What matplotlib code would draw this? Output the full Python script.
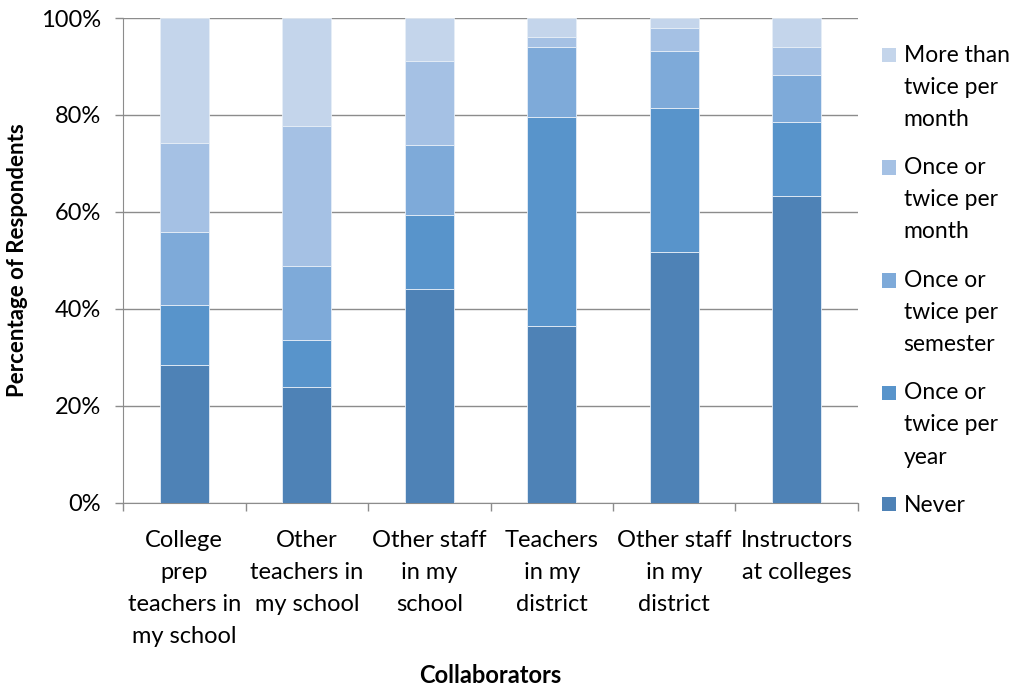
import numpy as np
import matplotlib.pyplot as plt
import matplotlib.patches as mpatches
from matplotlib.legend_handler import HandlerPatch
from matplotlib.ticker import PercentFormatter

plt.rcParams['font.family'] = ['Lato', 'DejaVu Sans']

# categories along the x axis
collaborators = ["College\nprep\nteachers in\nmy school", "Other\nteachers in\nmy school",
                 "Other staff\nin my\nschool", "Teachers\nin my\ndistrict",
                 "Other staff\nin my\ndistrict", "Instructors\nat colleges"]

# percent of respondents, bottom segment first
never    = [28.4, 23.9, 44.1, 36.5, 51.8, 63.3]
per_year = [12.3,  9.7, 15.3, 43.1, 29.7, 15.3]
per_sem  = [15.2, 15.3, 14.4, 14.4, 11.6,  9.6]
per_mon  = [18.3, 28.8, 17.3,  2.1,  4.8,  5.8]
more_mon = [25.8, 22.3,  8.9,  3.9,  2.1,  6.0]

series = [never, per_year, per_sem, per_mon, more_mon]
names = ["Never", "Once or\ntwice per\nyear", "Once or\ntwice per\nsemester",
         "Once or\ntwice per\nmonth", "More than\ntwice per\nmonth"]
colors = ["#4E82B6", "#5894CB", "#7EAAD9", "#A5C1E4", "#C4D5EB"]


class TopHandler(HandlerPatch):
    # put the square next to the first line of a multi-line label
    def create_artists(self, legend, orig_handle, xdescent, ydescent, width, height,
                       fontsize, trans):
        n = orig_handle.get_label().count("\n")
        shift = n * 0.5 * 23.4
        p = mpatches.Rectangle((-xdescent, -ydescent + shift), width, height,
                               facecolor=orig_handle.get_facecolor(), edgecolor="none",
                               transform=trans)
        return [p]


fig = plt.figure(figsize=(10.22, 6.88), dpi=100)
ax = fig.add_axes([0.1204, 0.2696, 0.7191, 0.7042])

x = np.arange(len(collaborators))
bottom = np.zeros(len(x))
proxies = []
for vals, nm, c in zip(series, names, colors):
    ax.bar(x, vals, 0.4, bottom=bottom, color=c, edgecolor="#E6EEF7", linewidth=0.6,
           zorder=3)
    proxies.append(mpatches.Patch(facecolor=c, label=nm))
    bottom += np.array(vals)

ax.set_xlim(-0.5, len(x) - 0.5)
ax.set_ylim(0, 100)
ax.set_yticks(np.arange(0, 101, 20))
ax.yaxis.set_major_formatter(PercentFormatter(decimals=0))
ax.grid(axis="y", color="#8C8C8C", linewidth=1.0, zorder=0)

ax.set_xticks(x)
ax.set_xticklabels(collaborators, fontsize=17, linespacing=1.65, va="top")
ax.set_xticks(np.arange(-0.5, len(x)), minor=True)
ax.tick_params(axis="x", which="major", length=0, pad=20)
ax.tick_params(axis="x", which="minor", length=6, color="#8C8C8C", width=1)
ax.tick_params(axis="y", length=6, color="#8C8C8C", width=1, labelsize=17, pad=10)

for s in ["top", "right"]:
    ax.spines[s].set_visible(False)
for s in ["left", "bottom"]:
    ax.spines[s].set_color("#8C8C8C")

ax.set_ylabel("Percentage of Respondents", fontsize=16, fontweight="bold", labelpad=9)
ax.set_xlabel("Collaborators", fontsize=17, fontweight="bold", labelpad=12)

hmap = {p: TopHandler() for p in proxies}
leg = ax.legend(proxies[::-1], names[::-1], loc="upper left", bbox_to_anchor=(1.02, 0.964),
                frameon=False, fontsize=16.5, handlelength=0.6, handleheight=0.6,
                handletextpad=0.35, labelspacing=1.2, borderaxespad=0.0,
                handler_map=hmap)
for t in leg.get_texts():
    t.set_linespacing(1.65)

fig.savefig("out.png", dpi=100)
